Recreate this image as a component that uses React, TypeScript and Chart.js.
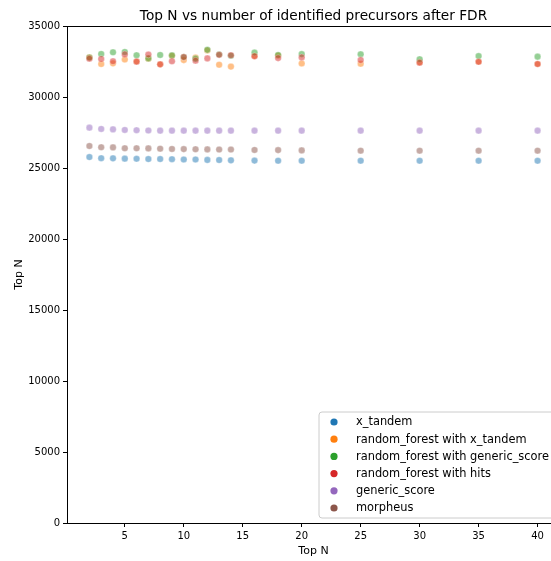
import React, { useEffect, useRef } from "react";
import { Chart, registerables } from "chart.js";

Chart.register(...registerables);

const topN = [2, 3, 4, 5, 6, 7, 8, 9, 10, 11, 12, 13, 14, 16, 18, 20, 25, 30, 35, 40];

const xTandem = [25770, 25690, 25680, 25660, 25650, 25630, 25630, 25620, 25600, 25600, 25570, 25560, 25540, 25520, 25510, 25510, 25510, 25510, 25510, 25510];
const rfXTandem = [32800, 32320, 32370, 32640, 32500, 32700, 32300, 32900, 32600, 32780, 33280, 32270, 32140, 32880, 32920, 32360, 32340, 32430, 32480, 32320];
const rfGenericScore = [32780, 33030, 33150, 33170, 32940, 32720, 32960, 32930, 32820, 32700, 33320, 32990, 32900, 33130, 32960, 33020, 33010, 32660, 32880, 32840];
const rfHits = [32700, 32680, 32520, 33000, 32490, 32990, 32300, 32520, 32810, 32560, 32720, 32970, 32940, 32870, 32740, 32790, 32600, 32420, 32480, 32320];
const genericScore = [27840, 27750, 27720, 27680, 27660, 27640, 27630, 27630, 27630, 27630, 27630, 27630, 27630, 27630, 27630, 27630, 27630, 27630, 27630, 27630];
const morpheus = [26550, 26460, 26450, 26390, 26390, 26380, 26360, 26340, 26330, 26320, 26310, 26300, 26300, 26270, 26260, 26240, 26220, 26220, 26220, 26220];

const seriesNames = [
  "x_tandem",
  "random_forest with x_tandem",
  "random_forest with generic_score",
  "random_forest with hits",
  "generic_score",
  "morpheus",
];
const seriesValues = [xTandem, rfXTandem, rfGenericScore, rfHits, genericScore, morpheus];
const seriesColors = ["31,119,180", "255,127,14", "44,160,44", "214,39,40", "148,103,189", "140,86,75"];

const titleText = "Top N vs number of identified precursors after FDR";
const xLabel = "Top N";
const yLabel = "Top N";
const xTicks = [5, 10, 15, 20, 25, 30, 35, 40];

const FONT = "'DejaVu Sans', sans-serif";

export default function App() {
  const ref = useRef<HTMLCanvasElement | null>(null);

  useEffect(() => {
    const canvas = ref.current;
    if (!canvas) return;

    const decor = {
      id: "decor",
      afterDraw(chart: any) {
        const ctx = chart.ctx;
        const a = chart.chartArea;
        ctx.save();
        // frame
        ctx.strokeStyle = "#000";
        ctx.lineWidth = 1;
        ctx.strokeRect(Math.round(a.left) + 0.5, Math.round(a.top) + 0.5, Math.round(a.right - a.left), Math.round(a.bottom - a.top));
        // title
        const cx = (a.left + a.right) / 2;
        ctx.fillStyle = "#000";
        ctx.font = `13.7px ${FONT}`;
        ctx.textAlign = "center";
        ctx.textBaseline = "alphabetic";
        ctx.fillText(titleText, cx, a.top - 6.5);
        // x label
        ctx.font = `11px ${FONT}`;
        ctx.fillText(xLabel, cx, 554);
        // y label
        ctx.save();
        ctx.translate(22, (a.top + a.bottom) / 2);
        ctx.rotate(-Math.PI / 2);
        ctx.fillText(yLabel, 0, 0);
        ctx.restore();
        // legend
        const lx = 319, ly = 412, lw = 236, lh = 106, r = 3;
        ctx.beginPath();
        ctx.moveTo(lx + r, ly);
        ctx.lineTo(lx + lw - r, ly);
        ctx.arcTo(lx + lw, ly, lx + lw, ly + r, r);
        ctx.lineTo(lx + lw, ly + lh - r);
        ctx.arcTo(lx + lw, ly + lh, lx + lw - r, ly + lh, r);
        ctx.lineTo(lx + r, ly + lh);
        ctx.arcTo(lx, ly + lh, lx, ly + lh - r, r);
        ctx.lineTo(lx, ly + r);
        ctx.arcTo(lx, ly, lx + r, ly, r);
        ctx.closePath();
        ctx.fillStyle = "rgba(255,255,255,0.8)";
        ctx.fill();
        ctx.strokeStyle = "#cccccc";
        ctx.lineWidth = 1;
        ctx.stroke();
        ctx.textAlign = "left";
        ctx.textBaseline = "middle";
        ctx.font = `11.4px ${FONT}`;
        seriesNames.forEach((name, i) => {
          const y = 422 + i * 17.2;
          ctx.beginPath();
          ctx.arc(334, y, 3.6, 0, Math.PI * 2);
          ctx.fillStyle = `rgb(${seriesColors[i]})`;
          ctx.fill();
          ctx.fillStyle = "#000";
          ctx.fillText(name, 356, y + 0.5);
        });
        ctx.restore();
      },
    };

    const chart = new Chart(canvas, {
      type: "scatter",
      data: {
        datasets: seriesNames.map((name, i) => ({
          label: name,
          data: topN.map((x, j) => ({ x, y: seriesValues[i][j] })),
          backgroundColor: `rgba(${seriesColors[i]},0.5)`,
          borderColor: "rgba(255,255,255,0.5)",
          borderWidth: 0.6,
          pointRadius: 3.3,
          order: seriesNames.length - i,
        })),
      },
      options: {
        animation: false,
        responsive: false,
        devicePixelRatio: 1,
        events: [],
        layout: { padding: { top: 26, right: 60, left: 0, bottom: 0 } },
        plugins: { legend: { display: false }, title: { display: false }, tooltip: { enabled: false } },
        scales: {
          x: {
            type: "linear",
            min: 0.1,
            max: 41.9,
            afterBuildTicks: (scale: any) => {
              scale.ticks = xTicks.map((v) => ({ value: v }));
            },
            afterFit: (scale: any) => {
              scale.height = 38;
            },
            grid: { display: true, drawOnChartArea: false, drawTicks: true, tickLength: 4, color: "#000", lineWidth: 1 },
            border: { display: false },
            ticks: { color: "#000", font: { family: FONT, size: 10 }, padding: 3, maxRotation: 0, autoSkip: false, callback: (v: any) => String(v) },
          },
          y: {
            type: "linear",
            min: 0,
            max: 35000,
            afterFit: (scale: any) => {
              scale.width = 67;
            },
            grid: { display: true, drawOnChartArea: false, drawTicks: true, tickLength: 4, color: "#000", lineWidth: 1 },
            border: { display: false },
            ticks: { color: "#000", font: { family: FONT, size: 10 }, padding: 3, stepSize: 5000, autoSkip: false, callback: (v: any) => String(v) },
          },
        },
      },
      plugins: [decor],
    } as any);

    return () => chart.destroy();
  }, []);

  return (
    <div style={{ position: "fixed", left: 0, top: 0, width: 551, height: 561, overflow: "hidden", background: "#fff" }}>
      <canvas ref={ref} width={620} height={561} style={{ display: "block", width: 620, height: 561 }} />
    </div>
  );
}
